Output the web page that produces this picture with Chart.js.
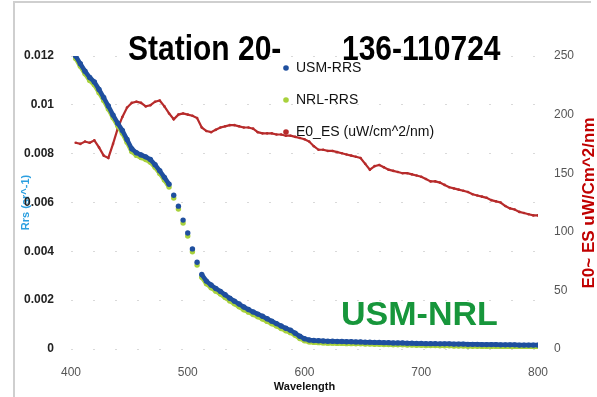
<!DOCTYPE html>
<html>
<head>
<meta charset="utf-8">
<script src="https://cdn.jsdelivr.net/npm/chart.js@4.4.1/dist/chart.umd.min.js"></script>
<style>
  html, body { margin: 0; padding: 0; background: #ffffff; }
  #wrap { width: 597px; height: 397px; position: relative; }
</style>
</head>
<body>
<div id="wrap"><canvas id="c" width="597" height="397"></canvas></div>
<script>
// ---------- DATA ----------
const TITLE_PARTS = ["Station 20-", "136-110724"];
const SERIES_LABELS = ["USM-RRS", "NRL-RRS", "E0_ES (uW/cm^2/nm)"];
const ANNOTATION = "USM-NRL";
const X_TITLE = "Wavelength";
const Y_TITLE = "Rrs (sr^-1)";
const Y2_TITLE = "E0~ ES uW/Cm^2/nm";

const X_TICKS = [400, 500, 600, 700, 800];
const Y_TICK_LABELS = ["0", "0.002", "0.004", "0.006", "0.008", "0.01", "0.012"];
const Y2_TICK_LABELS = ["0", "50", "100", "150", "200", "250"];

const WAVELENGTH = [
  404,408,412,416,420,424,428,432,436,440,
  444,448,452,456,460,464,468,472,476,480,
  484,488,492,496,500,504,508,512,516,520,
  524,528,532,536,540,544,548,552,556,560,
  564,568,572,576,580,584,588,592,596,600,
  604,608,612,616,620,624,628,632,636,640,
  644,648,652,656,660,664,668,672,676,680,
  684,688,692,696,700,704,708,712,716,720,
  724,728,732,736,740,744,748,752,756,760,
  764,768,772,776,780,784,788,792,796,800
];

const USM_RRS = [
  .01200,.01168,.01138,.01112,.01094,.01063,.01030,.00995,.00958,.00925,
  .00895,.00858,.00820,.00804,.00795,.00787,.00776,.00755,.00730,.00703,
  .00675,.00630,.00585,.00528,.00475,.00410,.00355,.00305,.00278,.00262,
  .00248,.00236,.00222,.00208,.00196,.00184,.00172,.00162,.00152,.00143,
  .00134,.00124,.00114,.00104,.00094,.00085,.00077,.00065,.00052,.00042,
  .00037,.00035,.00034,.00033,.00032,.00032,.00031,.00031,.00030,.00030,
  .00029,.00029,.00028,.00028,.00027,.00027,.00026,.00026,.00025,.00025,
  .00025,.00024,.00024,.00023,.00023,.00022,.00022,.00022,.00021,.00021,
  .00021,.00020,.00020,.00020,.00019,.00019,.00019,.00018,.00018,.00018,
  .00018,.00017,.00017,.00017,.00017,.00016,.00016,.00016,.00016,.00016
];

const NRL_RRS = [
  .01190,.01158,.01127,.01100,.01082,.01050,.01018,.00983,.00947,.00914,
  .00884,.00847,.00809,.00793,.00784,.00776,.00765,.00744,.00719,.00692,
  .00663,.00618,.00573,.00516,.00463,.00398,.00344,.00294,.00267,.00251,
  .00237,.00225,.00211,.00197,.00185,.00173,.00161,.00151,.00141,.00132,
  .00123,.00113,.00103,.00094,.00084,.00075,.00067,.00056,.00043,.00034,
  .00029,.00027,.00026,.00025,.00024,.00024,.00023,.00023,.00022,.00022,
  .00021,.00021,.00020,.00020,.00019,.00019,.00018,.00018,.00017,.00017,
  .00017,.00016,.00016,.00015,.00015,.00014,.00014,.00014,.00013,.00013,
  .00013,.00012,.00012,.00012,.00011,.00011,.00011,.00010,.00010,.00010,
  .00010,.00009,.00009,.00009,.00009,.00008,.00008,.00008,.00008,.00008
];

const E0_ES = [
  176,175,177,176,178,172,165,163,175,188,
  198,206,210,211,210,207,208,211,212,207,
  201,196,200,201,200,199,197,189,186,185,
  187,189,190,191,191,190,189,189,188,185,
  184,184,184,183,183,182,182,181,180,179,
  177,173,170,170,169,169,168,167,166,165,
  164,163,158,153,156,157,155,153,152,151,
  150,150,149,148,147,145,143,143,142,140,
  138,137,136,135,134,132,131,130,129,127,
  126,125,122,120,119,117,116,115,114,114
];

// ---------- CHART ----------
const FONT = "'Liberation Sans', Arial, sans-serif";
Chart.defaults.font.family = FONT;

const toPts = (ys) => WAVELENGTH.map((x, i) => ({ x: x, y: ys[i] }));
const COLORS = ["#1f4f9e", "#a8d13c", "#b72b2b"];
// continuous look where the points are dense, separate dots where the curve is steep
const gapStyle = (color) => (c) => (Math.abs(c.p1.y - c.p0.y) > 10.5 ? "rgba(0,0,0,0)" : color);

const decor = {
  id: "decor",
  beforeDraw(chart) {
    const ctx = chart.ctx;
    ctx.save();
    ctx.strokeStyle = "#cfcfcf";
    ctx.lineWidth = 2;
    ctx.beginPath();
    ctx.moveTo(14, 397);
    ctx.lineTo(14, 2);
    ctx.lineTo(591, 2);
    ctx.stroke();
    ctx.restore();
  },
  afterDraw(chart) {
    const ctx = chart.ctx;
    ctx.save();
    // title (slightly tall, like the original's condensed face)
    ctx.fillStyle = "#000";
    ctx.font = "bold 30px " + FONT;
    ctx.textBaseline = "alphabetic";
    ctx.textAlign = "left";
    ctx.save();
    ctx.translate(0, 60);
    ctx.scale(1, 1.18);
    ctx.fillText(TITLE_PARTS[0], 128, 0);
    ctx.fillText(TITLE_PARTS[1], 342, 0);
    ctx.restore();
    // legend
    const ly = [68, 100, 132];
    ctx.font = "14px " + FONT;
    ctx.textBaseline = "middle";
    chart.data.datasets.forEach((ds, i) => {
      ctx.fillStyle = COLORS[i];
      ctx.beginPath();
      ctx.arc(286, ly[i], 2.8, 0, Math.PI * 2);
      ctx.fill();
      ctx.fillStyle = "#111";
      ctx.fillText(ds.label, 296, ly[i]);
    });
    // annotation
    ctx.fillStyle = "#17963b";
    ctx.font = "bold 34px " + FONT;
    ctx.textBaseline = "alphabetic";
    ctx.fillText(ANNOTATION, 341, 325);
    // right axis title (reads bottom to top)
    ctx.translate(589, 203);
    ctx.rotate(-Math.PI / 2);
    ctx.fillStyle = "#c00000";
    ctx.font = "bold 17px " + FONT;
    ctx.textAlign = "center";
    ctx.textBaseline = "middle";
    ctx.fillText(Y2_TITLE, 0, 0);
    ctx.restore();
  }
};

new Chart(document.getElementById("c"), {
  type: "scatter",
  data: {
    datasets: [
      {
        label: SERIES_LABELS[0], data: toPts(USM_RRS), yAxisID: "y",
        pointRadius: 2.7, pointBackgroundColor: COLORS[0], pointBorderWidth: 0,
        showLine: true, borderColor: COLORS[0], borderWidth: 4.5,
        segment: { borderColor: gapStyle(COLORS[0]) }
      },
      {
        label: SERIES_LABELS[1], data: toPts(NRL_RRS), yAxisID: "y",
        pointRadius: 2.7, pointBackgroundColor: COLORS[1], pointBorderWidth: 0,
        showLine: true, borderColor: COLORS[1], borderWidth: 4.5,
        segment: { borderColor: gapStyle(COLORS[1]) }
      },
      {
        label: SERIES_LABELS[2], data: toPts(E0_ES), yAxisID: "y2",
        pointRadius: 1.3, pointBackgroundColor: COLORS[2], pointBorderWidth: 0,
        showLine: true, borderColor: COLORS[2], borderWidth: 2.2, tension: 0
      }
    ]
  },
  options: {
    responsive: false,
    animation: false,
    devicePixelRatio: 1,
    layout: { padding: { top: 56, left: 0, right: 0, bottom: 0 } },
    plugins: { legend: { display: false }, title: { display: false }, tooltip: { enabled: false } },
    scales: {
      x: {
        type: "linear", min: X_TICKS[0], max: X_TICKS[X_TICKS.length - 1],
        afterBuildTicks: (s) => { s.ticks = X_TICKS.map(v => ({ value: v })); },
        ticks: { font: { size: 12 }, color: "#555", padding: 16 },
        grid: { display: false, drawTicks: false },
        border: { display: false },
        title: { display: true, text: X_TITLE, font: { size: 11, weight: "bold" }, color: "#111", padding: { top: 0, bottom: 3 } },
        afterFit: (s) => { s.height = 48; }
      },
      y: {
        position: "left", min: 0, max: 0.012,
        ticks: { stepSize: 0.002, font: { size: 12, weight: "bold" }, color: "#222", padding: 17,
          callback: (v, i) => Y_TICK_LABELS[i] },
        grid: { color: "rgba(0,0,0,0.15)", drawTicks: false, lineWidth: 1 },
        border: { display: false, dash: [2, 20] },
        title: { display: true, text: Y_TITLE, font: { size: 11, weight: "bold" }, color: "#2b9fe0", padding: { top: 19, bottom: 0 } },
        afterFit: (s) => { s.width = 71; }
      },
      y2: {
        position: "right", min: 0, max: 250,
        ticks: { stepSize: 50, font: { size: 12 }, color: "#555", padding: 16,
          callback: (v, i) => Y2_TICK_LABELS[i] },
        grid: { display: false, drawTicks: false },
        border: { display: false },
        afterFit: (s) => { s.width = 59; }
      }
    }
  },
  plugins: [decor]
});
</script>
</body>
</html>
